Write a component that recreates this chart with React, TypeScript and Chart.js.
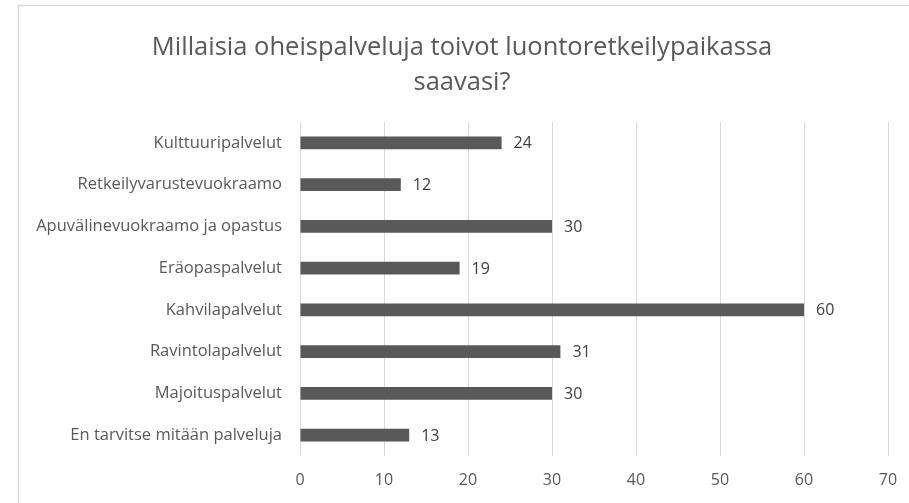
import React, { useEffect, useRef } from "react";
import { Chart, registerables } from "chart.js";

Chart.register(...registerables);

const titleLines = ["Millaisia oheispalveluja toivot luontoretkeilypaikassa", "saavasi?"];
const categories = [
  "Kulttuuripalvelut",
  "Retkeilyvarustevuokraamo",
  "Apuvälinevuokraamo ja opastus",
  "Eräopaspalvelut",
  "Kahvilapalvelut",
  "Ravintolapalvelut",
  "Majoituspalvelut",
  "En tarvitse mitään palveluja",
];
const values = [24, 12, 30, 19, 60, 31, 30, 13];
const xMin = 0;
const xMax = 70;
const xStep = 10;

const FONT = "'Open Sans', sans-serif";
const TEXT = "#595959";

const framePlugin = {
  id: "frameAndTitle",
  beforeDraw(chart: any) {
    const ctx = chart.ctx;
    ctx.save();
    ctx.fillStyle = "#ffffff";
    ctx.fillRect(0, 0, chart.width, chart.height);
    ctx.strokeStyle = "#d9d9d9";
    ctx.lineWidth = 1.5;
    ctx.strokeRect(18.5, 5.5, 1000, 1000);
    ctx.fillStyle = TEXT;
    ctx.font = `25.5px ${FONT}`;
    ctx.textAlign = "center";
    ctx.textBaseline = "middle";
    titleLines.forEach((line, i) => ctx.fillText(line, 462, 48 + i * 35));
    ctx.restore();
  },
  afterDatasetsDraw(chart: any) {
    const ctx = chart.ctx;
    const meta = chart.getDatasetMeta(0);
    ctx.save();
    ctx.fillStyle = "#404040";
    ctx.font = `16px ${FONT}`;
    ctx.textAlign = "left";
    ctx.textBaseline = "middle";
    meta.data.forEach((bar: any, i: number) => {
      ctx.fillText(String(values[i]), bar.x + 12, bar.y + 1);
    });
    ctx.restore();
  },
};

export default function App() {
  const ref = useRef<HTMLCanvasElement>(null);
  useEffect(() => {
    const chart = new Chart(ref.current!, {
      type: "bar",
      data: {
        labels: categories,
        datasets: [
          {
            data: values,
            backgroundColor: "#595959",
            barPercentage: 0.31,
            categoryPercentage: 1,
          },
        ],
      },
      options: {
        indexAxis: "y",
        animation: false,
        responsive: false,
        maintainAspectRatio: false,
        layout: { padding: { top: 122, left: 0, right: 21, bottom: 0 } },
        plugins: {
          legend: { display: false },
          title: { display: false },
          tooltip: { enabled: false },
        },
        scales: {
          x: {
            min: xMin,
            max: xMax,
            ticks: { stepSize: xStep, color: TEXT, font: { family: FONT, size: 16 }, padding: 15 },
            grid: { color: "#d9d9d9", drawTicks: false, lineWidth: 1 },
            border: { display: false },
            afterFit(scale: any) {
              scale.height = 47;
              scale.paddingLeft = 0;
              scale.paddingRight = 0;
            },
          },
          y: {
            ticks: { color: TEXT, font: { family: FONT, size: 16.5 }, padding: 18 },
            grid: { display: false, drawTicks: false },
            border: { display: false },
            afterFit(scale: any) {
              scale.width = 300;
              scale.paddingTop = 0;
              scale.paddingBottom = 0;
            },
          },
        },
      },
      plugins: [framePlugin],
    } as any);
    return () => chart.destroy();
  }, []);
  return (
    <div style={{ position: "fixed", left: 0, top: 0, width: 909, height: 503, overflow: "hidden", background: "#fff" }}>
      <canvas ref={ref} width={909} height={503} style={{ width: 909, height: 503, display: "block" }} />
    </div>
  );
}
